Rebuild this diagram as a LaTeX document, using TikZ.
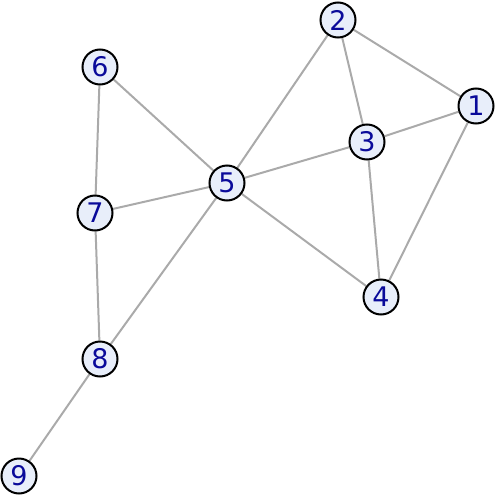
\documentclass[tikz,border=0pt]{standalone}
\usepackage{fontspec}
\setmainfont{DejaVu Sans}
\usetikzlibrary{backgrounds}
\definecolor{nodefill}{HTML}{E8EEFA}
\definecolor{nodetext}{HTML}{0A0A9A}
\definecolor{edgecol}{HTML}{AAAAAA}
\begin{document}
\begin{tikzpicture}[x=1pt,y=-1pt,
  vert/.style={circle,draw=black,line width=2pt,fill=nodefill,text=nodetext,minimum size=35pt,inner sep=0pt,font=\fontsize{27}{27}\selectfont},
  edge/.style={draw=edgecol,line width=2pt}]
\useasboundingbox (0,0) rectangle (498,498);
\node[vert] (n1) at (476,106) {1};
\node[vert] (n2) at (338,20) {2};
\node[vert] (n3) at (367,142) {3};
\node[vert] (n4) at (381,297) {4};
\node[vert] (n5) at (227,183) {5};
\node[vert] (n6) at (100,67) {6};
\node[vert] (n7) at (95,213) {7};
\node[vert] (n8) at (100,359) {8};
\node[vert] (n9) at (19,476) {9};
\begin{scope}[on background layer]
\draw[edge] (n1) -- (n2);
\draw[edge] (n1) -- (n3);
\draw[edge] (n1) -- (n4);
\draw[edge] (n2) -- (n3);
\draw[edge] (n2) -- (n5);
\draw[edge] (n3) -- (n5);
\draw[edge] (n3) -- (n4);
\draw[edge] (n4) -- (n5);
\draw[edge] (n5) -- (n6);
\draw[edge] (n5) -- (n7);
\draw[edge] (n5) -- (n8);
\draw[edge] (n6) -- (n7);
\draw[edge] (n7) -- (n8);
\draw[edge] (n8) -- (n9);
\end{scope}
\end{tikzpicture}
\end{document}
